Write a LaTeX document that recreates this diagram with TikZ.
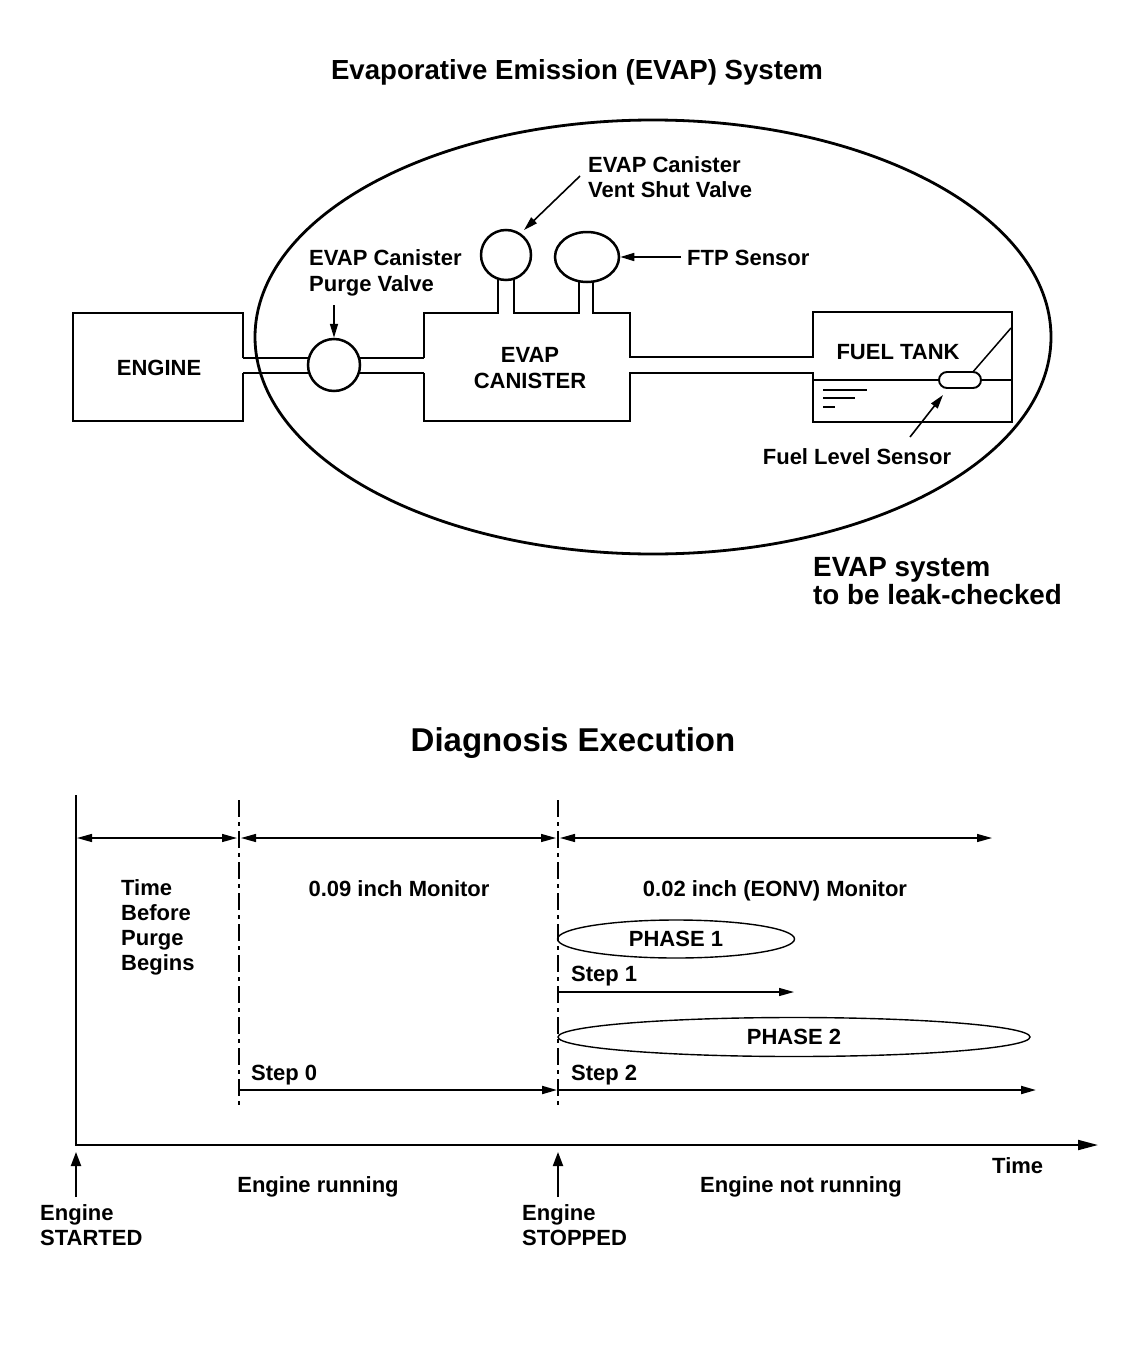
\documentclass[tikz,border=0pt]{standalone}
\usepackage{fontspec}
\setmainfont{Liberation Sans}
\usetikzlibrary{shapes.geometric,arrows.meta}
\begin{document}
\begin{tikzpicture}[x=1pt,y=-1pt,
  lbl/.style={font=\bfseries\fontsize{22}{25}\selectfont, inner sep=0pt, anchor=base},
  lblw/.style={lbl, anchor=base west},
  part/.style={line width=2.5pt},
  pointer/.style={line width=1.6pt, -{Triangle[length=14pt,width=8pt]}},
  dimarrow/.style={line width=1.3pt, {Triangle[length=15pt,width=8pt]}-{Triangle[length=15pt,width=8pt]}},
  steparrow/.style={-{Triangle[length=15pt,width=8pt]}},
  dashdot/.style={line width=1.7pt, dash pattern=on 17pt off 5pt on 4pt off 5pt},
  phase/.style={ellipse, draw, line width=1.4pt, inner sep=0pt, font=\bfseries\fontsize{22}{25}\selectfont}]
\fill[white] (0,0) rectangle (1136,1370);
\useasboundingbox (0,0) rectangle (1136,1370);

% ---------- upper diagram ----------
\node[font=\bfseries\fontsize{27.6}{30}\selectfont, inner sep=0pt, anchor=base] (title1) at (577,80) {Evaporative Emission (EVAP) System};

% pipes engine - canister
\draw[part] (243,358) -- (424,358);
\draw[part] (243,373) -- (424,373);
% engine box
\draw[part] (243,358) -- (243,313) -- (73,313) -- (73,421) -- (243,421) -- (243,373);
\node[lbl] (engine) at (159,375) {ENGINE};
\node[circle, draw, part, fill=white, minimum size=52pt, inner sep=0pt] (pv) at (334,365) {};

% canister, pipes and tank
\draw[part] (424,358) -- (424,313) -- (498,313) -- (498,272);
\draw[part] (514,272) -- (514,313) -- (579,313) -- (579,272);
\draw[part] (593,272) -- (593,313) -- (630,313) -- (630,357) -- (813,357) -- (813,312) -- (1012,312) -- (1012,422) -- (813,422) -- (813,373) -- (630,373) -- (630,421) -- (424,421) -- (424,373);
\node[circle, draw, part, fill=white, minimum size=50pt, inner sep=0pt] (vsv) at (506,255) {};
\node[ellipse, draw, part, fill=white, minimum width=64pt, minimum height=50pt, inner sep=0pt] (ftp) at (587,257) {};
\node[lbl] (evapc1) at (530,362) {EVAP};
\node[lbl] (evapc2) at (530,388) {CANISTER};

% fuel tank interior
\draw[line width=1.2pt] (813,380) -- (1012,380);
\draw[line width=1.3pt] (823,390) -- (867,390);
\draw[line width=1.3pt] (823,398) -- (855,398);
\draw[line width=1.3pt] (823,407) -- (835,407);
\draw[line width=1.5pt] (972,373) -- (1011,328);
\node[draw, line width=1.9pt, fill=white, rounded corners=8pt, minimum width=42pt, minimum height=16pt, inner sep=0pt] (fls) at (960,380) {};
\node[lbl] (fueltank) at (898,359) {FUEL TANK};

% system ellipse
\node[ellipse, draw, line width=2.8pt, minimum width=796pt, minimum height=434pt, inner sep=0pt] (sys) at (653,337) {};

% labels with pointers
\node[lblw] (pvl1) at (309,265) {EVAP Canister};
\node[lblw] (pvl2) at (309,291) {Purge Valve};
\coordinate (pvtail) at (334,305);
\draw[pointer] (pvtail) -- (pv.north);

\node[lblw] (vsvl1) at (588,172) {EVAP Canister};
\node[lblw] (vsvl2) at (588,197) {Vent Shut Valve};
\coordinate (vsvtail) at (580,176);
\coordinate (vsvtip) at (524,230);
\draw[pointer] (vsvtail) -- (vsvtip);

\node[lblw] (ftpl) at (687,265) {FTP Sensor};
\coordinate (ftptail) at (681,257);
\draw[pointer] (ftptail) -- (ftp.east);

\node[lbl] (flsl) at (857,464) {Fuel Level Sensor};
\coordinate (flstail) at (910,437);
\coordinate (flstip) at (943,395);
\draw[pointer] (flstail) -- (flstip);

\node[font=\bfseries\fontsize{27.8}{28}\selectfont, inner sep=0pt, anchor=base west] (leak1) at (813,576) {EVAP system};
\node[font=\bfseries\fontsize{27.8}{28}\selectfont, inner sep=0pt, anchor=base west] (leak2) at (813,604) {to be leak-checked};

% ---------- lower diagram ----------
\node[font=\bfseries\fontsize{33}{36}\selectfont, inner sep=0pt, anchor=base] (title2) at (573,751) {Diagnosis Execution};

\coordinate (ytop) at (76,795);
\coordinate (orig) at (76,1145);
\coordinate (xend) at (1098,1145);
\draw[line width=1.9pt, -{Triangle[length=20pt,width=10pt]}] (ytop) -- (orig) -- (xend);

\coordinate (da) at (239,800);
\coordinate (db) at (239,1108);
\coordinate (dc) at (558,800);
\coordinate (dd) at (558,1108);
\draw[dashdot] (da) -- (db);
\draw[dashdot] (dc) -- (dd);

\coordinate (t0) at (77,838);
\coordinate (t1) at (237,838);
\coordinate (t2) at (241,838);
\coordinate (t3) at (556,838);
\coordinate (t4) at (560,838);
\coordinate (t5) at (992,838);
\draw[dimarrow] (t0) -- (t1);
\draw[dimarrow] (t2) -- (t3);
\draw[dimarrow] (t4) -- (t5);

\node[lblw] (tb1) at (121,895) {Time};
\node[lblw] (tb2) at (121,920) {Before};
\node[lblw] (tb3) at (121,945) {Purge};
\node[lblw] (tb4) at (121,970) {Begins};
\node[lbl] (m09) at (399,896) {0.09 inch Monitor};
\node[lbl] (m02) at (775,896) {0.02 inch (EONV) Monitor};

\node[phase, minimum width=237pt, minimum height=38pt] (ph1) at (676,939) {PHASE 1};
\node[lblw] (s1) at (571,981) {Step 1};
\coordinate (s1a) at (558,992);
\coordinate (s1b) at (794,992);
\draw[line width=1.3pt, steparrow] (s1a) -- (s1b);

\node[phase, minimum width=472pt, minimum height=39pt] (ph2) at (794,1037) {PHASE 2};
\node[lblw] (s2) at (571,1080) {Step 2};
\coordinate (s2a) at (558,1090);
\coordinate (s2b) at (1036,1090);
\draw[line width=1.9pt, steparrow] (s2a) -- (s2b);

\node[lblw] (s0) at (251,1080) {Step 0};
\coordinate (s0a) at (239,1090);
\coordinate (s0b) at (557,1090);
\draw[line width=1.9pt, steparrow] (s0a) -- (s0b);

\coordinate (esa) at (76,1197);
\coordinate (esb) at (76,1152);
\draw[line width=2pt, -{Triangle[length=14pt,width=10pt]}] (esa) -- (esb);
\coordinate (eta) at (558,1197);
\coordinate (etb) at (558,1152);
\draw[line width=2pt, -{Triangle[length=14pt,width=10pt]}] (eta) -- (etb);

\node[lblw] (time) at (992,1173) {Time};
\node[lbl] (er) at (318,1192) {Engine running};
\node[lbl] (enr) at (801,1192) {Engine not running};
\node[lblw] (es1) at (40,1220) {Engine};
\node[lblw] (es2) at (40,1245) {STARTED};
\node[lblw] (et1) at (522,1220) {Engine};
\node[lblw] (et2) at (522,1245) {STOPPED};
\end{tikzpicture}
\end{document}
